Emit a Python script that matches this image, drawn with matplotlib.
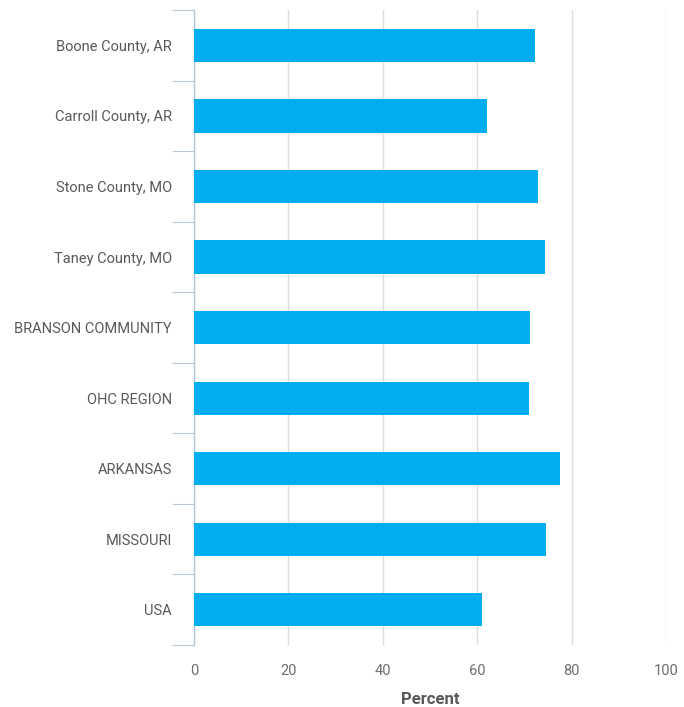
import numpy as np
import matplotlib
matplotlib.use("Agg")
import matplotlib.pyplot as plt

# data
categories = [
    "Boone County, AR",
    "Carroll County, AR",
    "Stone County, MO",
    "Taney County, MO",
    "BRANSON COMMUNITY",
    "OHC REGION",
    "ARKANSAS",
    "MISSOURI",
    "USA",
]
values = [72.3, 62.0, 72.9, 74.3, 71.3, 71.0, 77.5, 74.6, 61.1]
x_ticks = [0, 20, 40, 60, 80, 100]

BAR_COLOR = "#00aeef"
TEXT_COLOR = "#595959"
TICK_COLOR = "#6f6f6f"
GRID_COLOR = "#dcdcdc"
SPINE_COLOR = "#b8c8d8"

plt.rcParams["font.family"] = ["Roboto", "DejaVu Sans"]

fig = plt.figure(figsize=(6.84, 7.07), dpi=100)
ax = fig.add_axes([0.2836, 0.0877, 0.690, 0.898])

y = np.arange(len(categories))
ax.barh(y, values, height=0.47, color=BAR_COLOR, zorder=3)

ax.set_xlim(0, 100)
ax.set_ylim(len(categories) - 0.5, -0.5)

ax.set_xticks(x_ticks)
ax.set_xticklabels([str(t) for t in x_ticks])
ax.set_yticks(y)
ax.set_yticklabels(categories)

# boundary ticks between categories
ax.set_yticks(np.arange(-0.5, len(categories) + 0.5, 1), minor=True)
ax.tick_params(axis="y", which="major", length=0, pad=16, labelsize=10.5, labelcolor=TEXT_COLOR)
ax.tick_params(axis="y", which="minor", length=16, width=0.8, color=SPINE_COLOR)
ax.tick_params(axis="x", length=0, pad=14, labelsize=10.5, labelcolor=TICK_COLOR)

ax.grid(axis="x", color=GRID_COLOR, linewidth=1, zorder=0)
for side in ["top", "right", "bottom"]:
    ax.spines[side].set_visible(False)
ax.spines["left"].set_color(SPINE_COLOR)
ax.spines["left"].set_linewidth(1)

ax.set_xlabel("Percent", fontsize=12, fontweight="bold", color=TEXT_COLOR, labelpad=10)

plt.savefig("out.png", dpi=100)
